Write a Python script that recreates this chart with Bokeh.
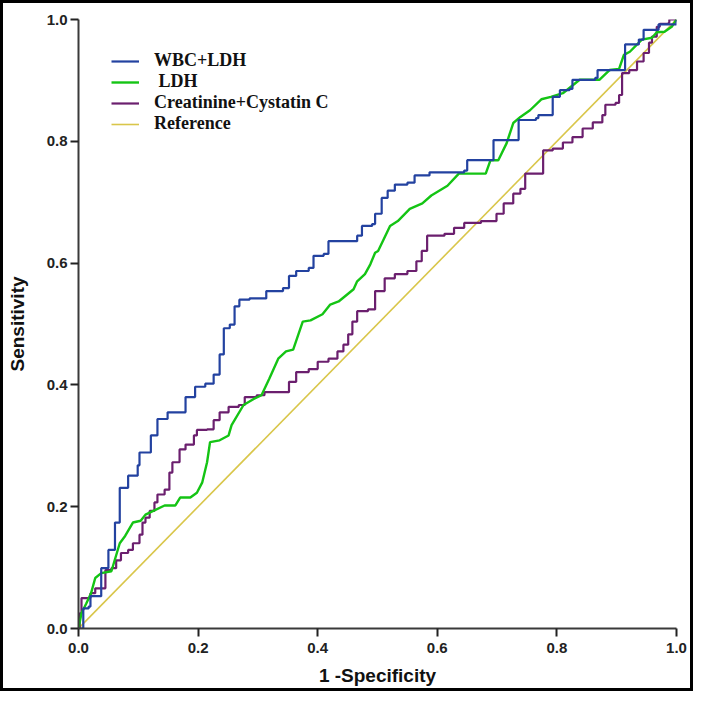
from bokeh.plotting import figure
from bokeh.models import Range1d, Legend, LegendItem, FixedTicker, PrintfTickFormatter
from bokeh.embed import file_html
from bokeh.resources import INLINE

# 1 - Specificity / Sensitivity
wbc_ldh_x = [0, .008, .017, .020, .038, .050, .061, .069, .083, .099, .102, .121, .132, .149, .174,
             .179, .195, .212, .226, .236, .243, .253, .261, .269, .286, .314, .342, .352, .364,
             .385, .393, .410, .418, .435, .466, .474, .491, .496, .507, .517, .529, .550, .562,
             .587, .645, .650, .686, .694, .732, .736, .765, .769, .785, .793, .805, .821, .826,
             .864, .868, .906, .914, .937, .945, .967, .970, 1.0]
wbc_ldh_y = [0, .033, .036, .053, .099, .129, .174, .231, .251, .268, .289, .317, .344, .355, .355,
             .380, .397, .402, .417, .450, .493, .499, .529, .540, .542, .554, .559, .579, .587,
             .592, .612, .615, .636, .636, .645, .661, .664, .681, .707, .719, .729, .732, .744,
             .749, .752, .769, .769, .802, .802, .835, .838, .843, .843, .873, .884, .886, .901,
             .904, .917, .917, .959, .967, .983, .983, .992, 1.0]

ldh_x = [0, .005, .013, .021, .028, .038, .055, .069, .078, .091, .104, .112, .144, .162, .170,
         .187, .198, .207, .215, .220, .236, .251, .256, .276, .293, .306, .319, .334, .347,
         .359, .375, .388, .408, .421, .435, .460, .466, .479, .488, .496, .501, .521, .534,
         .554, .575, .590, .617, .636, .681, .689, .702, .716, .727, .739, .755, .774, .790,
         .810, .838, .871, .888, .904, .912, .922, .942, .959, .967, .980, .992, 1.0]
ldh_y = [0, .025, .041, .058, .083, .091, .094, .140, .152, .174, .177, .187, .202, .202, .215,
         .215, .223, .240, .273, .306, .309, .317, .334, .367, .377, .383, .410, .443, .455,
         .458, .504, .506, .516, .532, .537, .557, .570, .582, .598, .617, .620, .661, .669,
         .689, .698, .711, .727, .747, .747, .769, .769, .797, .830, .840, .851, .869, .873,
         .879, .901, .901, .917, .919, .942, .947, .967, .970, .979, .980, .988, 1.0]

creat_x = [0, .002, .005, .017, .020, .028, .038, .045, .055, .063, .071, .083, .091, .102, .107,
           .112, .119, .127, .132, .144, .152, .157, .169, .179, .193, .198, .215, .226, .236,
           .251, .268, .278, .298, .311, .347, .352, .364, .385, .400, .418, .433, .443, .451,
           .458, .466, .484, .496, .512, .529, .550, .565, .574, .583, .612, .628, .645, .673,
           .699, .711, .727, .739, .747, .769, .777, .793, .810, .826, .843, .860, .876, .881,
           .898, .904, .909, .921, .934, .945, .954, .959, .967, .972, .987, .988, 1.0]
creat_y = [0, .025, .050, .050, .058, .066, .066, .096, .099, .112, .124, .129, .140, .154, .174,
           .182, .193, .207, .220, .228, .256, .273, .294, .302, .317, .326, .327, .342, .355,
           .364, .367, .380, .383, .388, .388, .405, .421, .426, .438, .443, .455, .466, .483,
           .504, .521, .524, .554, .575, .582, .587, .603, .620, .645, .648, .658, .666, .669,
           .681, .698, .714, .722, .747, .747, .785, .788, .798, .807, .821, .831, .843, .860,
           .863, .876, .912, .917, .931, .945, .962, .972, .988, .993, .995, 1.0, 1.0]

ref_x = [0, 1]
ref_y = [0, 1]

ticks = [0.0, 0.2, 0.4, 0.6, 0.8, 1.0]

p = figure(width=693, height=691, output_backend="svg", toolbar_location=None,
           x_range=Range1d(0, 1), y_range=Range1d(0, 1),
           min_border_left=74, min_border_right=20, min_border_top=16, min_border_bottom=66)
p.styles = {"border": "3px solid black", "box-sizing": "border-box"}
p.grid.visible = False
p.outline_line_color = None
p.background_fill_color = "white"
p.border_fill_color = "white"

for ax in (p.xaxis[0], p.yaxis[0]):
    ax.ticker = FixedTicker(ticks=ticks)
    ax.formatter = PrintfTickFormatter(format="%.1f")
    ax.major_tick_out = 8
    ax.major_tick_in = 0
    ax.minor_tick_line_color = None
    ax.axis_line_width = 2
    ax.axis_line_color = "#3a3a3a"
    ax.major_tick_line_width = 2
    ax.major_tick_line_color = "#222222"
    ax.major_label_text_font = "Liberation Sans"
    ax.major_label_text_font_style = "bold"
    ax.major_label_text_font_size = "15px"
    ax.major_label_text_color = "#222222"
    ax.axis_label_text_font = "Liberation Sans"
    ax.axis_label_text_font_style = "bold"
    ax.axis_label_text_font_size = "19px"
    ax.axis_label_text_color = "#111111"

p.xaxis.axis_label = "1 -Specificity"
p.yaxis.axis_label = "Sensitivity"
p.xaxis.major_label_standoff = 6
p.yaxis.major_label_standoff = 3
p.xaxis.axis_label_standoff = 9
p.yaxis.axis_label_standoff = 16

r_blue = p.step(wbc_ldh_x, wbc_ldh_y, mode="after", line_color="#2342a0", line_width=2.2)
r_green = p.line(ldh_x, ldh_y, line_color="#14c414", line_width=2.4)
r_purple = p.step(creat_x, creat_y, mode="after", line_color="#6b1f6e", line_width=2.2)
r_ref = p.line(ref_x, ref_y, line_color="#d9c64a", line_width=1.6)
# draw reference beneath
p.renderers = [r_ref, r_purple, r_green, r_blue]

legend = Legend(items=[
    LegendItem(label="WBC+LDH", renderers=[r_blue]),
    LegendItem(label=" LDH", renderers=[r_green]),
    LegendItem(label="Creatinine+Cystatin C", renderers=[r_purple]),
    LegendItem(label="Reference", renderers=[r_ref]),
], location=(33, 494))
legend.background_fill_alpha = 0
legend.border_line_color = None
legend.padding = 0
legend.margin = 0
legend.spacing = 0
legend.glyph_width = 28
legend.glyph_height = 20
legend.label_height = 20
legend.label_standoff = 15
legend.label_text_font = "Liberation Serif"
legend.label_text_font_style = "bold"
legend.label_text_font_size = "18px"
legend.label_text_color = "#111111"
p.add_layout(legend, "center")

open("out.html", "w").write(file_html(p, INLINE))
